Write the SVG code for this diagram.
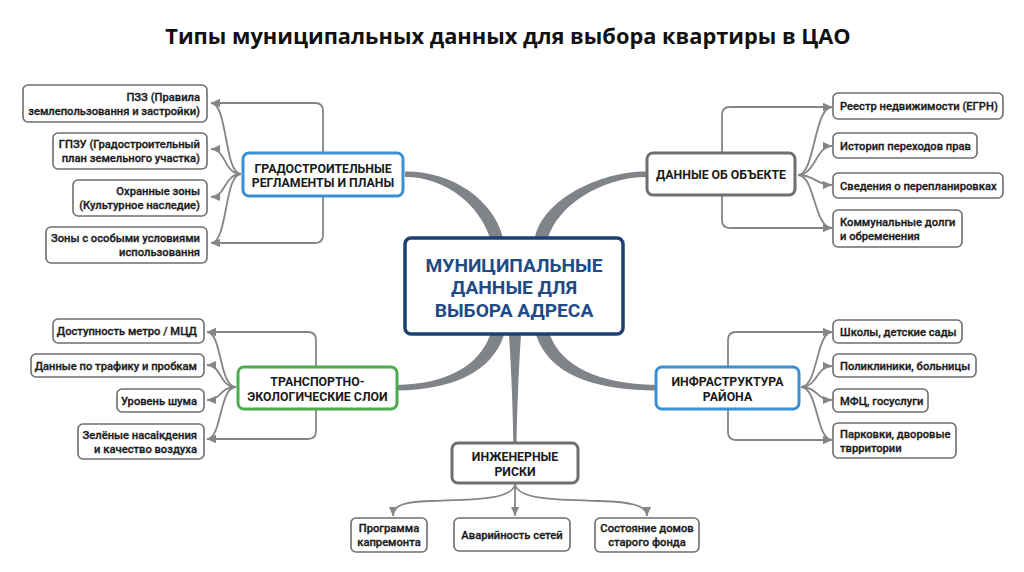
<svg xmlns="http://www.w3.org/2000/svg" width="1024" height="572" viewBox="0 0 1024 572">
<defs>
<marker id="arr" viewBox="0 0 10 10" refX="10" refY="5" markerWidth="9" markerHeight="9" orient="auto" markerUnits="userSpaceOnUse">
<path d="M0,0.5 L10,5 L0,9.5 Z" fill="#858585"/>
</marker>
<style>
.title{font-family:"Open Sans","Noto Sans",sans-serif;font-weight:700;font-size:21.8px;fill:#111;text-anchor:middle}
.leaf rect{fill:#fff;stroke:#6e6e6e;stroke-width:1.6}
.leaf text{font-family:Roboto,"Liberation Sans",sans-serif;font-weight:500;font-size:11.2px;fill:#1a1a1a;stroke:#1a1a1a;stroke-width:0.3}
.cat rect{fill:#fff;stroke-width:3}
.cat text{font-family:Roboto,"Liberation Sans",sans-serif;font-weight:700;font-size:12.3px;fill:#1a1a1a;text-anchor:middle}
.blue rect{stroke:#3b8fd4}
.gray rect{stroke:#6f6f6f}
.green rect{stroke:#4caa4f}
.ra text{text-anchor:end}
.la text{text-anchor:start}
.ca text{text-anchor:middle}
.thin{fill:none;stroke:#858585;stroke-width:1.8;marker-end:url(#arr)}
.trunk{fill:#808387}
</style>
</defs>
<rect width="1024" height="572" fill="#ffffff"/>
<text class="title" x="508" y="44">Типы муниципальных данных для выбора квартиры в ЦАО</text>

<g id="connectors">
<path class="trunk" d="M405,171.5 C452,171 494,200 503,238 L490,238 C480,207 448,177 405,177 Z"/>
<path class="trunk" d="M647,171.5 C600,171 542,200 535,238 L548,238 C557,207 600,177 647,177 Z"/>
<path class="trunk" d="M490,335 L504,335 C492,372 452,390 397,390.5 L397,385 C446,384 479,366 490,335 Z"/>
<path class="trunk" d="M536,335 L550,335 C561,365 597,384 656,385 L656,390.5 C590,390 549,373 536,335 Z"/>
<path class="trunk" d="M509,335 L521,335 C518,380 517,420 516.6,443 L513.4,443 C513,420 512,380 509,335 Z"/>
<path class="thin" d="M323,153 L323,111 Q323,103 315,103 L211,103"/>
<path class="thin" d="M323,196 L323,235 Q323,243 315,243 L211,243"/>
<path class="thin" d="M241,174 C224,174 228,103 211,103"/>
<path class="thin" d="M241,174 C224,174 226,149 211,149"/>
<path class="thin" d="M241,174 C224,174 226,197 211,197"/>
<path class="thin" d="M241,174 C224,174 228,243 211,243"/>
<path class="thin" d="M722,153 L722,115 Q722,107 730,107 L832,107"/>
<path class="thin" d="M722,195 L722,220 Q722,228 730,228 L832,228"/>
<path class="thin" d="M798,175 C815,175 814,107 832,107"/>
<path class="thin" d="M798,175 C815,175 816,146 832,146"/>
<path class="thin" d="M798,175 C815,175 816,185 832,185"/>
<path class="thin" d="M798,175 C815,175 814,228 832,228"/>
<path class="thin" d="M316,367 L316,340 Q316,332 308,332 L207,332"/>
<path class="thin" d="M316,409 L316,431 Q316,439 308,439 L207,439"/>
<path class="thin" d="M236,387 C219,387 222,332 207,332"/>
<path class="thin" d="M236,387 C219,387 222,365 207,365"/>
<path class="thin" d="M236,387 C219,387 222,400 207,400"/>
<path class="thin" d="M236,387 C219,387 222,439 207,439"/>
<path class="thin" d="M728,367 L728,340 Q728,332 736,332 L832,332"/>
<path class="thin" d="M728,409 L728,432 Q728,440 736,440 L832,440"/>
<path class="thin" d="M801,387 C818,387 816,332 832,332"/>
<path class="thin" d="M801,387 C818,387 816,366 832,366"/>
<path class="thin" d="M801,387 C818,387 816,400 832,400"/>
<path class="thin" d="M801,387 C818,387 816,440 832,440"/>
<path class="thin" d="M515,484 C513,500 470,500 430,501 C404,502 393,505 393,516"/>
<path class="thin" d="M515,484 L515,516"/>
<path class="thin" d="M515,484 C517,500 560,500 600,501 C630,502 647,505 647,516"/>
</g>

<g id="center">
<rect x="405" y="238" width="218" height="96" rx="6" fill="#fff" stroke="#1e3f74" stroke-width="3.5"/>
<g font-family="Roboto,'Liberation Sans',sans-serif" font-weight="700" font-size="19.2" fill="#1f4b87" text-anchor="middle">
<text x="514" y="272">МУНИЦИПАЛЬНЫЕ</text>
<text x="514" y="294">ДАННЫЕ ДЛЯ</text>
<text x="514" y="317">ВЫБОРА АДРЕСА</text>
</g>
</g>

<g id="node-grad" class="cat blue">
<rect x="243" y="153" width="160" height="43" rx="6"/>
<text x="323" y="172.5">ГРАДОСТРОИТЕЛЬНЫЕ</text>
<text x="323" y="186.5">РЕГЛАМЕНТЫ И ПЛАНЫ</text>
</g>
<g id="node-obj" class="cat gray">
<rect x="647" y="153" width="148" height="42" rx="6"/>
<text x="721" y="179">ДАННЫЕ ОБ ОБЪЕКТЕ</text>
</g>
<g id="node-trans" class="cat green">
<rect x="238" y="367" width="159" height="42" rx="6"/>
<text x="317.5" y="386">ТРАНСПОРТНО-</text>
<text x="317.5" y="401">ЭКОЛОГИЧЕСКИЕ СЛОИ</text>
</g>
<g id="node-infra" class="cat blue">
<rect x="656" y="367" width="143" height="42" rx="6"/>
<text x="727.5" y="386">ИНФРАСТРУКТУРА</text>
<text x="727.5" y="400.5">РАЙОНА</text>
</g>
<g id="node-eng" class="cat gray">
<rect x="452" y="443" width="126" height="40" rx="6"/>
<text x="515" y="460.5">ИНЖЕНЕРНЫЕ</text>
<text x="515" y="476">РИСКИ</text>
</g>

<g id="leaf-pzz" class="leaf ra">
<rect x="23" y="85" width="184" height="37" rx="5"/>
<text x="200" y="100.5">ПЗЗ (Правила</text>
<text x="200" y="114.5">землепользовання и застройки)</text>
</g>
<g id="leaf-gpzu" class="leaf ra">
<rect x="53" y="133" width="154" height="36" rx="5"/>
<text x="200" y="148">ГПЗУ (Градостроительный</text>
<text x="200" y="162">план земельного участка)</text>
</g>
<g id="leaf-ohr" class="leaf ra">
<rect x="73" y="180" width="134" height="36" rx="5"/>
<text x="200" y="195">Охранные зоны</text>
<text x="200" y="209">(Культурное наследие)</text>
</g>
<g id="leaf-zouit" class="leaf ra">
<rect x="46" y="227" width="161" height="36" rx="5"/>
<text x="200" y="242">Зоны с особыми условиями</text>
<text x="200" y="256">использовання</text>
</g>

<g id="leaf-egrn" class="leaf la">
<rect x="833" y="93" width="170" height="26" rx="5"/>
<text x="840" y="110">Реестр недвижимости (ЕГРН)</text>
</g>
<g id="leaf-hist" class="leaf la">
<rect x="833" y="133" width="144" height="25" rx="5"/>
<text x="840" y="149.5">Историп переходов прав</text>
</g>
<g id="leaf-plan" class="leaf la">
<rect x="833" y="173" width="170" height="25" rx="5"/>
<text x="840" y="189.5">Сведения о перепланировках</text>
</g>
<g id="leaf-debt" class="leaf la">
<rect x="833" y="210" width="129" height="37" rx="5"/>
<text x="840" y="225.5">Коммунальные долги</text>
<text x="840" y="239.5">и обременения</text>
</g>

<g id="leaf-metro" class="leaf ra">
<rect x="53" y="319" width="151" height="24" rx="5"/>
<text x="197" y="335">Доступность метро / МЦД</text>
</g>
<g id="leaf-traffic" class="leaf ra">
<rect x="31" y="354" width="173" height="23" rx="5"/>
<text x="197" y="369.5">Данные по трафику и пробкам</text>
</g>
<g id="leaf-noise" class="leaf ra">
<rect x="117" y="389" width="87" height="23" rx="5"/>
<text x="197" y="404.5">Уровень шума</text>
</g>
<g id="leaf-green" class="leaf ra">
<rect x="78" y="424" width="126" height="35" rx="5"/>
<text x="197" y="438.5">Зелёные насаікдения</text>
<text x="197" y="452.5">и качество воздуха</text>
</g>

<g id="leaf-school" class="leaf la">
<rect x="833" y="320" width="129" height="23" rx="5"/>
<text x="840" y="335.5">Школы, детские сады</text>
</g>
<g id="leaf-clinic" class="leaf la">
<rect x="833" y="354" width="143" height="23" rx="5"/>
<text x="840" y="369.5">Поликлиники, больницы</text>
</g>
<g id="leaf-mfc" class="leaf la">
<rect x="833" y="389" width="95" height="23" rx="5"/>
<text x="840" y="404.5">МФЦ, госуслуги</text>
</g>
<g id="leaf-park" class="leaf la">
<rect x="833" y="423" width="123" height="35" rx="5"/>
<text x="840" y="437.5">Парковки, дворовые</text>
<text x="840" y="451.5">тврритории</text>
</g>

<g id="leaf-kapr" class="leaf ca">
<rect x="351" y="518" width="76" height="34" rx="5"/>
<text x="389" y="532">Программа</text>
<text x="389" y="546">капремонта</text>
</g>
<g id="leaf-avar" class="leaf ca">
<rect x="454" y="518" width="116" height="33" rx="5"/>
<text x="512" y="538.5">Аварийность сетей</text>
</g>
<g id="leaf-old" class="leaf ca">
<rect x="595" y="518" width="104" height="34" rx="5"/>
<text x="647" y="532">Состояние домов</text>
<text x="647" y="546">старого фонда</text>
</g>
</svg>
